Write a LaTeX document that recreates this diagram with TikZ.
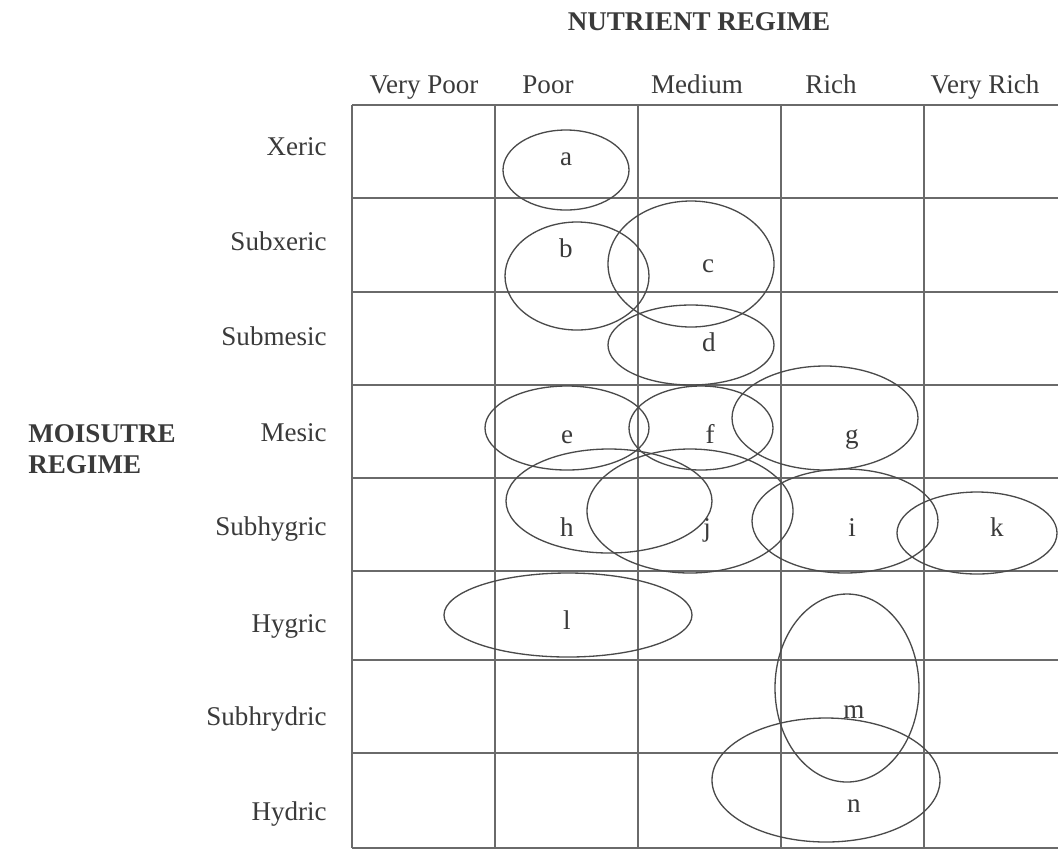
\documentclass[tikz,border=0pt]{standalone}
\usepackage{fontspec}
\setmainfont{Liberation Serif}
\usepackage{xcolor}
\usetikzlibrary{positioning}
\definecolor{Ink}{HTML}{3A3A3A}
\definecolor{Grid}{HTML}{6A6A6A}
\definecolor{Ring}{HTML}{4A4A4A}
\tikzset{
  title/.style={anchor=base,inner sep=0pt,font=\fontsize{15.4}{18}\selectfont\bfseries,text=Ink},
  colhead/.style={anchor=base,inner sep=0pt,font=\fontsize{15.4}{18}\selectfont,text=Ink},
  rowhead/.style={anchor=base east,inner sep=0pt,font=\fontsize{15.4}{18}\selectfont,text=Ink},
  zonelabel/.style={anchor=base,inner sep=0pt,font=\fontsize{15.4}{18}\selectfont,text=Ink},
  gridline/.style={draw=Grid,line width=0.8pt},
  zone/.style={draw=Ring,line width=0.75pt}
}
\begin{document}
\begin{tikzpicture}[x=0.02cm,y=-0.02cm]
  \useasboundingbox (0,0) rectangle (1058,850);

  % titles
  \node[title] (nutrient) at (699,30) {NUTRIENT REGIME};
  \node[title,anchor=base west] (moisture) at (28,442) {MOISUTRE};
  \node[title,anchor=base west] (regime) at (28,473) {REGIME};

  % column heads
  \node[colhead] (cVeryPoor) at (424,93) {Very Poor};
  \node[colhead] (cPoor) at (548,93) {Poor};
  \node[colhead] (cMedium) at (697,93) {Medium};
  \node[colhead] (cRich) at (831,93) {Rich};
  \node[colhead] (cVeryRich) at (985,93) {Very Rich};

  % row heads
  \node[rowhead] (rXeric) at (327,155) {Xeric};
  \node[rowhead] (rSubxeric) at (327,250) {Subxeric};
  \node[rowhead] (rSubmesic) at (327,345) {Submesic};
  \node[rowhead] (rMesic) at (327,441) {Mesic};
  \node[rowhead] (rSubhygric) at (327,535) {Subhygric};
  \node[rowhead] (rHygric) at (327,632) {Hygric};
  \node[rowhead] (rSubhrydric) at (327,725) {Subhrydric};
  \node[rowhead] (rHydric) at (327,820) {Hydric};

  % grid
  \foreach \x in {352,495,638,781,924}
    \draw[gridline] (\x,105) -- (\x,848);
  \foreach \y in {105,198,292,385,478,571,660,753,848}
    \draw[gridline] (352,\y) -- (1058,\y);

  % site series
  \draw[zone] (566,170) ellipse (63 and 40);
  \draw[zone] (577,276) ellipse (72 and 54);
  \draw[zone] (691,264) ellipse (83 and 63);
  \draw[zone] (691,345) ellipse (83 and 40);
  \draw[zone] (567,428) ellipse (82 and 42);
  \draw[zone] (701,428) ellipse (72 and 42);
  \draw[zone] (825,418) ellipse (93 and 52);
  \draw[zone] (609,501) ellipse (103 and 52);
  \draw[zone] (690,511) ellipse (103 and 62);
  \draw[zone] (845,521) ellipse (93 and 52);
  \draw[zone] (977,533) ellipse (80 and 41);
  \draw[zone] (568,615) ellipse (124 and 42);
  \draw[zone] (847,688) ellipse (72 and 94);
  \draw[zone] (826,780) ellipse (114 and 62);

  \node[zonelabel] (la) at (566,165) {a};
  \node[zonelabel] (lb) at (566,257) {b};
  \node[zonelabel] (lc) at (708,272) {c};
  \node[zonelabel] (ld) at (709,351) {d};
  \node[zonelabel] (le) at (567,443) {e};
  \node[zonelabel] (lf) at (710,443) {f};
  \node[zonelabel] (lg) at (852,443) {g};
  \node[zonelabel] (lh) at (567,536) {h};
  \node[zonelabel] (lj) at (707,536) {j};
  \node[zonelabel] (li) at (852,536) {i};
  \node[zonelabel] (lk) at (997,536) {k};
  \node[zonelabel] (ll) at (567,629) {l};
  \node[zonelabel] (lm) at (854,718) {m};
  \node[zonelabel] (ln) at (854,812) {n};
\end{tikzpicture}
\end{document}
